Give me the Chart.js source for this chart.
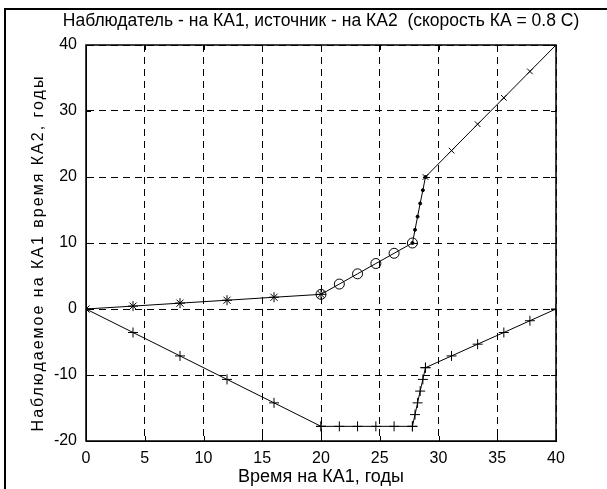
<!DOCTYPE html>
<html>
<head>
<meta charset="utf-8">
<script src="https://cdn.jsdelivr.net/npm/chart.js@4"></script>
<style>
  html, body { margin: 0; padding: 0; background: #fff; }
  #wrap { width: 607px; height: 489px; }
</style>
</head>
<body>
<div id="wrap"><canvas id="chart" width="607" height="489"></canvas></div>
<script>
// time on KA1 for each leg of the trip
const legA_x = [0, 4, 8, 12, 16, 20];
const legB_x = [20, 21.56, 23.11, 24.67, 26.22, 27.78];
const legC_x = [27.78, 28, 28.22, 28.44, 28.67, 28.89];
const legD_x = [28.89, 31.11, 33.33, 35.56, 37.78, 40];

// observed KA2 time (upper curve)
const upperA = [0, 0.44, 0.89, 1.33, 1.78, 2.22];
const upperB = [2.22, 3.78, 5.33, 6.89, 8.44, 10];
const upperC = [10, 12, 14, 16, 18, 20];
const upperD = [20, 24, 28, 32, 36, 40];

// lower curve
const lowerA = [0, -3.56, -7.11, -10.67, -14.22, -17.78];
const lowerB = [-17.78, -17.78, -17.78, -17.78, -17.78, -17.78];
const lowerC = [-17.78, -16, -14.22, -12.44, -10.67, -8.89];
const lowerD = [-8.89, -7.11, -5.33, -3.56, -1.78, 0];

const xTicks = [0, 5, 10, 15, 20, 25, 30, 35, 40];
const yTicks = [-20, -10, 0, 10, 20, 30, 40];

const title = "Наблюдатель - на КА1, источник - на КА2  (скорость КА = 0.8 С)";
const xTitle = "Время на КА1, годы";
const yTitle = "Наблюдаемое на КА1 время КА2, годы";

const FONT = "'Liberation Sans', Arial, sans-serif";
const TICK_FONT = "'Liberation Sans Narrow', 'Liberation Sans', Arial, sans-serif";

const pts = (xs, ys) => xs.map((x, i) => ({ x, y: ys[i] }));

const seg = (xs, ys, style, radius, fill) => ({
  data: pts(xs, ys),
  showLine: true,
  borderColor: "#000",
  borderWidth: 1,
  pointStyle: style,
  pointRadius: radius,
  pointBorderColor: "#000",
  pointBorderWidth: 1,
  pointBackgroundColor: fill ? "#000" : "rgba(0,0,0,0)",
  tension: 0,
});

// frame, box, inner ticks and rotated y label
const decor = {
  id: "decor",
  beforeDraw(chart) {
    const ctx = chart.ctx;
    ctx.save();
    ctx.fillStyle = "#fff";
    ctx.fillRect(0, 0, chart.width, chart.height);
    ctx.fillStyle = "#000";
    ctx.fillRect(4, 8, 2, chart.height - 8);
    ctx.fillRect(4, 8, chart.width - 4, 2);
    ctx.restore();
  },
  afterDraw(chart) {
    const { ctx, chartArea: a, scales } = chart;
    ctx.save();
    ctx.strokeStyle = "#000";
    ctx.lineWidth = 1;
    ctx.setLineDash([]);
    ctx.beginPath();
    xTicks.forEach(v => {
      const px = Math.round(scales.x.getPixelForValue(v)) + 0.5;
      ctx.moveTo(px, a.bottom); ctx.lineTo(px, a.bottom - 5);
      ctx.moveTo(px, a.top); ctx.lineTo(px, a.top + 5);
    });
    yTicks.forEach(v => {
      const py = Math.round(scales.y.getPixelForValue(v)) + 0.5;
      ctx.moveTo(a.left, py); ctx.lineTo(a.left + 5, py);
      ctx.moveTo(a.right, py); ctx.lineTo(a.right - 5, py);
    });
    ctx.stroke();
    ctx.lineWidth = 1.5;
    ctx.strokeRect(a.left, a.top, a.right - a.left, a.bottom - a.top);

    ctx.translate(39, 253);
    ctx.rotate(-Math.PI / 2);
    ctx.font = "16px " + FONT;
    ctx.letterSpacing = "2px";
    ctx.fillStyle = "#000";
    ctx.textAlign = "center";
    ctx.textBaseline = "middle";
    ctx.fillText(yTitle, 0, 0);
    ctx.restore();
  },
};

new Chart(document.getElementById("chart"), {
  type: "scatter",
  data: {
    datasets: [
      seg(legA_x, upperA, "star", 5, false),
      seg(legB_x, upperB, "circle", 5, false),
      seg(legC_x, upperC, "circle", 1.5, true),
      seg(legD_x, upperD, "crossRot", 4, false),
      seg(legA_x, lowerA, "cross", 5, false),
      seg(legB_x, lowerB, "cross", 5, false),
      seg(legC_x, lowerC, "cross", 5, false),
      seg(legD_x, lowerD, "cross", 5, false),
    ],
  },
  options: {
    responsive: false,
    animation: false,
    layout: { padding: { left: 35, right: 0, top: 0, bottom: 0 } },
    plugins: {
      legend: { display: false },
      tooltip: { enabled: false },
      title: {
        display: true,
        text: title,
        color: "#000",
        font: { family: FONT, size: 17.5, weight: "normal" },
        padding: { top: 11, bottom: 13 },
      },
    },
    scales: {
      x: {
        type: "linear",
        min: 0,
        max: 40,
        afterFit: s => { s.height = 48; },
        afterBuildTicks: s => { s.ticks = xTicks.map(v => ({ value: v })); },
        ticks: { color: "#000", font: { family: TICK_FONT, size: 16 }, padding: 8, maxRotation: 0 },
        grid: { color: "#000", lineWidth: 1, drawTicks: false },
        border: { display: true, color: "#000", dash: [7, 5] },
        title: {
          display: true,
          text: xTitle,
          color: "#000",
          font: { family: FONT, size: 18 },
          padding: { top: 0, bottom: 1 },
        },
      },
      y: {
        type: "linear",
        min: -20,
        max: 40,
        afterFit: s => { s.width = 51; },
        afterBuildTicks: s => { s.ticks = yTicks.map(v => ({ value: v })); },
        ticks: { color: "#000", font: { family: TICK_FONT, size: 16 }, padding: 9 },
        grid: { color: "#000", lineWidth: 1, drawTicks: false },
        border: { display: true, color: "#000", dash: [7, 5] },
      },
      // empty right-hand strip so the title centres over the plot
      yRight: {
        type: "linear",
        position: "right",
        min: -20,
        max: 40,
        afterFit: s => { s.width = 51; },
        ticks: { display: false },
        grid: { display: false },
        border: { display: false },
      },
    },
  },
  plugins: [decor],
});
</script>
</body>
</html>
